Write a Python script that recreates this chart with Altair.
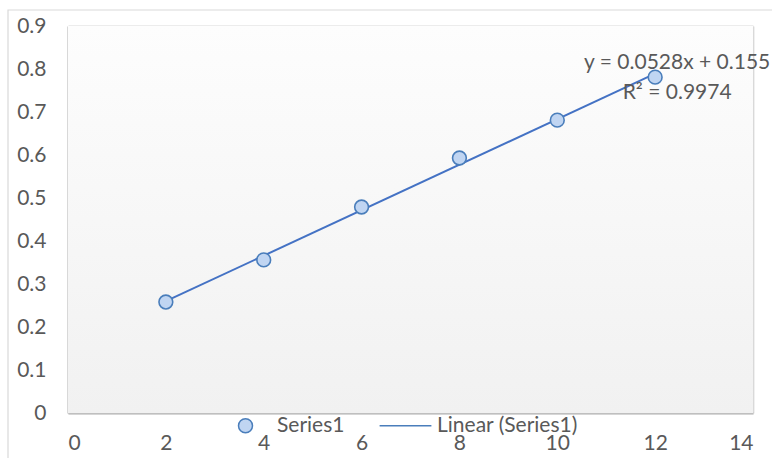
import altair as alt
import pandas as pd

# ---- data ----
x_vals = [2, 4, 6, 8, 10, 12]
y_vals = [0.258, 0.356, 0.479, 0.593, 0.681, 0.781]
series_name = "Series1"
trend_name = "Linear (Series1)"
eq_text = ["y = 0.0528x + 0.155", "R² = 0.9974"]
eq_x = [12.45, 12.45]
eq_y = [0.814, 0.745]
x_ticks = [0, 2, 4, 6, 8, 10, 12, 14]
y_ticks = [0, 0.1, 0.2, 0.3, 0.4, 0.5, 0.6, 0.7, 0.8, 0.9]

W, H = 685, 387
FONT = "Lato"
FS = 21
TXT = "#595959"
BLUE = "#4472c4"
EDGE = "#4a7ebb"
FILL = "#c0d5f2"

pts = pd.DataFrame({"x": x_vals, "y": y_vals, "series": [series_name] * len(x_vals)})
eq = pd.DataFrame({"x": eq_x, "y": eq_y, "t": eq_text})
one = pd.DataFrame({"a": [0]})

xs = alt.Scale(domain=[0, 14], nice=False, zero=False)
ys = alt.Scale(domain=[0, 0.9], nice=False, zero=False)

frame = alt.Chart(one).mark_rect(fill=None, stroke="#d9d9d9", strokeWidth=1.2).encode(
    x=alt.value(-60), x2=alt.value(760), y=alt.value(-16), y2=alt.value(460)
)

bg = alt.Chart(one).mark_rect(
    fill=alt.Gradient(
        gradient="linear",
        stops=[alt.GradientStop(color="#fdfdfd", offset=0), alt.GradientStop(color="#f1f1f1", offset=1)],
        x1=0, x2=0, y1=0, y2=1,
    )
).encode(x=alt.value(0), x2=alt.value(W), y=alt.value(0), y2=alt.value(H))

base = alt.Chart(pts)

axes = base.mark_point(opacity=0).encode(
    x=alt.X("x:Q", scale=xs, axis=alt.Axis(values=x_ticks, title=None, grid=True, gridColor="#d9d9d9",
                                           gridWidth=1.8, domainColor="#bfbfbf", domainWidth=2, ticks=False,
                                           labelFont=FONT, labelFontSize=FS, labelColor=TXT, labelPadding=19)),
    y=alt.Y("y:Q", scale=ys, axis=alt.Axis(values=y_ticks, format=".1~f", title=None, grid=True,
                                           gridColor="#d9d9d9", gridWidth=1.8, domainColor="#bfbfbf",
                                           domainWidth=2, ticks=False, labelFont=FONT, labelFontSize=FS,
                                           labelColor=TXT, labelPadding=22)),
)

trend = base.transform_regression("x", "y").mark_line(color=BLUE, strokeWidth=2).encode(
    x=alt.X("x:Q", scale=xs), y=alt.Y("y:Q", scale=ys)
)

dom = [series_name, trend_name]
points = base.mark_point(filled=True, size=190, stroke=EDGE, strokeWidth=1.6, opacity=1).encode(
    x=alt.X("x:Q", scale=xs),
    y=alt.Y("y:Q", scale=ys),
    color=alt.Color("series:N", scale=alt.Scale(domain=dom, range=[FILL, BLUE]),
                    legend=alt.Legend(title=None, orient="none", direction="horizontal", legendX=167,
                                      legendY=389, labelFont=FONT, labelFontSize=FS, labelColor=TXT,
                                      symbolSize=196, symbolStrokeColor=EDGE, symbolStrokeWidth=1.5,
                                      labelOffset=21, columnPadding=31, padding=0)),
    shape=alt.Shape("series:N", scale=alt.Scale(domain=dom, range=["circle", "M-3.7,0H3.7"]), legend=None),
)

text = alt.Chart(eq).mark_text(font=FONT, fontSize=FS, color=TXT, align="center", baseline="middle").encode(
    x=alt.X("x:Q", scale=xs), y=alt.Y("y:Q", scale=ys), text="t:N"
)

chart = alt.layer(frame, bg, axes, trend, points, text).properties(
    width=W, height=H,
    autosize=alt.AutoSizeParams(type="none"),
    padding={"left": 68, "top": 26, "right": 19, "bottom": 45},
    background="white",
).configure_view(stroke=None)

chart.save("out.html", embed_options={"renderer": "svg", "actions": False})
